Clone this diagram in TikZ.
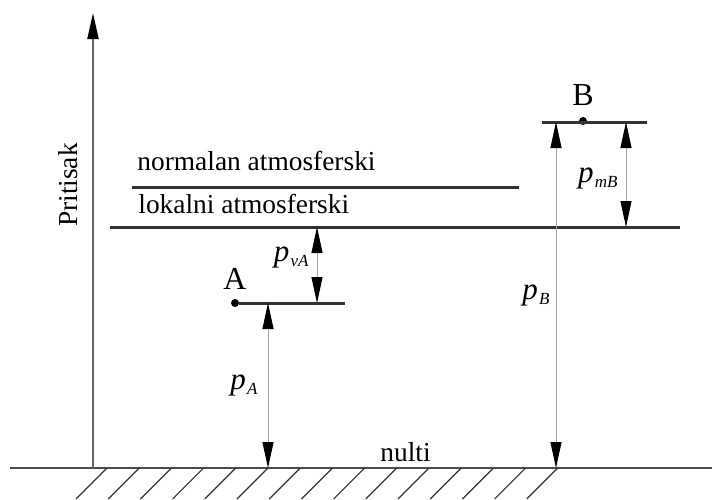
\documentclass[tikz,border=0pt]{standalone}
\usepackage{fontspec}
\setmainfont{Liberation Serif}
\usetikzlibrary{arrows.meta,positioning}

\newcommand{\pres}[1]{{\fontsize{15.5}{17}\selectfont\itshape p}\kern0.6pt\raisebox{-2.6pt}{\fontsize{8.5}{9}\selectfont\itshape #1}}

\begin{document}
\begin{tikzpicture}[x=0.5pt,y=-0.5pt,>={Triangle[length=13pt,width=5.5pt,color=black]},
    font=\fontsize{13.7}{16}\selectfont]
  \tikzstyle{level}=[line width=1.5pt,draw=black!80]
  \tikzstyle{dim}=[<->,line width=0.5pt,draw=black!35]
  \tikzstyle{point}=[circle,fill=black,inner sep=0pt,minimum size=4pt]
  \tikzstyle{hatch}=[line width=0.6pt,draw=black!80]
  \tikzstyle{txt}=[inner sep=0pt]
  \tikzstyle{ptname}=[txt,font=\fontsize{16}{18}\selectfont]

  \useasboundingbox (0,0) rectangle (712,499);

  % Ground
  \coordinate (g-left) at (10,468);
  \coordinate (g-right) at (712,468);
  \draw[line width=1pt,black!70] (g-left) -- (g-right);
  \foreach \i in {0,...,14}
    \draw[hatch] (107+32.2*\i,468) -- ++(-31,31);
  \node[txt,anchor=base west] (nulti) at (380,461) {nulti};

  % Axis
  \coordinate (axis-bot) at (93,468);
  \coordinate (axis-top) at (93,13);
  \draw[->,line width=1pt,black!60] (axis-bot) -- (axis-top);
  \node[txt,rotate=90,anchor=base] (pritisak) at (77,185) {Pritisak};

  % Levels
  \coordinate (norm-l) at (132,187);
  \coordinate (norm-r) at (519,187);
  \coordinate (lok-l) at (110,227);
  \coordinate (lok-r) at (680,227);
  \coordinate (A-r) at (345,303);
  \coordinate (B-l) at (542,122);
  \coordinate (B-r) at (647,122);
  \draw[level] (norm-l) -- (norm-r);
  \draw[level] (lok-l) -- (lok-r);
  \node[txt,anchor=base west] (normalan) at (137,170) {normalan atmosferski};
  \node[txt,anchor=base west] (lokalni) at (138,213) {lokalni atmosferski};

  % Points
  \node[point] (dotA) at (235,303) {};
  \node[point] (dotB) at (583,121) {};
  \draw[level] (dotA) -- (A-r);
  \draw[level] (B-l) -- (B-r);
  \node[ptname,above=4.5pt of dotA] (labA) {A};
  \node[ptname,above=5.5pt of dotB] (labB) {B};

  % Pressures
  \coordinate (vA-top) at (317,227);
  \coordinate (vA-bot) at (317,303);
  \coordinate (pA-top) at (268,303);
  \coordinate (pA-bot) at (268,468);
  \coordinate (pB-top) at (556,122);
  \coordinate (pB-bot) at (556,468);
  \coordinate (mB-top) at (626,122);
  \coordinate (mB-bot) at (626,227);
  \draw[dim] (vA-top) -- node[txt,left=4pt,yshift=4pt] (pvA) {\pres{vA}} (vA-bot);
  \draw[dim] (pA-top) -- node[txt,left=5pt] (pA) {\pres{A}} (pA-bot);
  \draw[dim] (pB-top) -- node[txt,left=3pt] (pB) {\pres{B}} (pB-bot);
  \draw[dim] (mB-top) -- node[txt,left=4pt,yshift=-2pt] (pmB) {\pres{mB}} (mB-bot);
\end{tikzpicture}
\end{document}
